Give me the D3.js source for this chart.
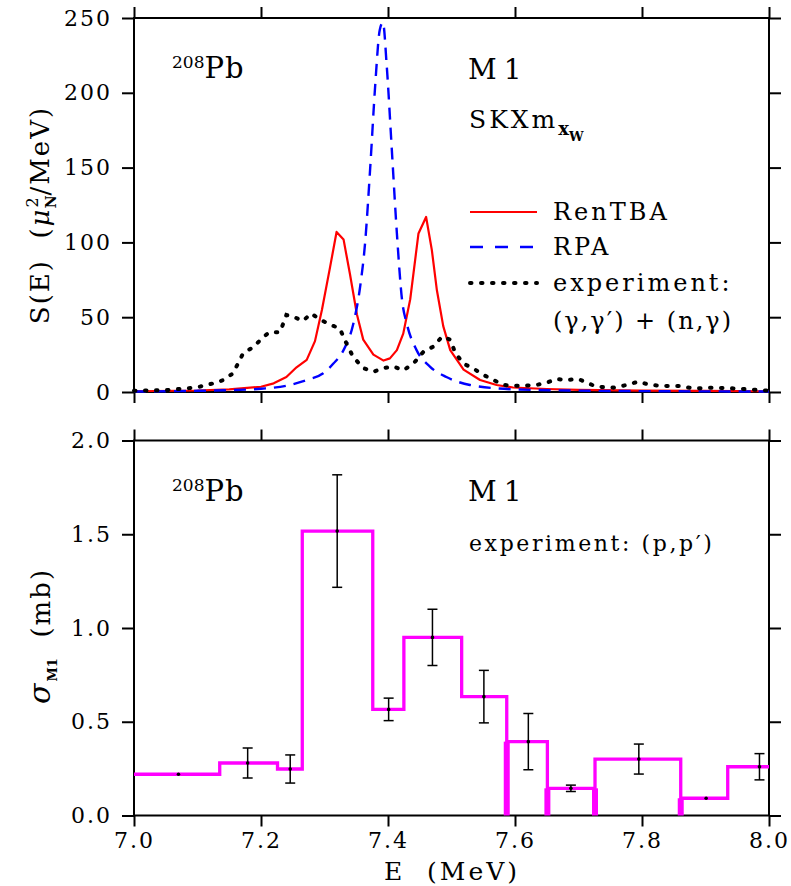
<!DOCTYPE html>
<html>
<head>
<meta charset="utf-8">
<script src="https://cdn.jsdelivr.net/npm/d3@7/dist/d3.min.js"></script>
<style>
body { margin: 0; background: #fff; }
svg text { font-family: "DejaVu Serif", "Liberation Serif", serif; fill: #000; white-space: pre; }
</style>
</head>
<body>
<div class="chart"></div>
<script>
// ---- top panel: strength functions S(E) ----
const renE = [7.00, 7.10, 7.15, 7.20, 7.22, 7.24, 7.256, 7.272, 7.285, 7.296, 7.309, 7.319, 7.330, 7.340, 7.351, 7.361, 7.377, 7.393, 7.403, 7.414, 7.424, 7.435, 7.448, 7.460, 7.469, 7.477, 7.487, 7.498, 7.519, 7.545, 7.571, 7.597, 7.65, 7.70, 7.80, 7.90, 8.00];
const renS = [0.5, 1.0, 1.8, 3.5, 5.8, 10, 16.5, 21.5, 34, 55, 84, 107, 102, 79, 52, 35, 25, 21, 22.5, 28, 39, 62, 106, 117, 95, 68, 44, 28, 15, 8, 4.7, 3, 2, 1.4, 0.9, 0.7, 0.5];

const rpaE = [7.00, 7.10, 7.15, 7.20, 7.24, 7.272, 7.298, 7.314, 7.330, 7.345, 7.356, 7.364, 7.372, 7.380, 7.387, 7.392, 7.398, 7.406, 7.414, 7.422, 7.430, 7.445, 7.466, 7.492, 7.529, 7.597, 7.70, 7.80, 8.00];
const rpaS = [0.3, 0.8, 1.2, 2.2, 4.2, 8, 12.5, 19, 28, 45, 70, 100, 150, 206, 242, 247, 218, 162, 106, 62, 45, 28, 17, 10, 4.7, 1.8, 0.9, 0.6, 0.3];

const expE = [7.000, 7.051, 7.083, 7.104, 7.125, 7.141, 7.156, 7.172, 7.188, 7.204, 7.214, 7.230, 7.240, 7.250, 7.266, 7.279, 7.293, 7.309, 7.324, 7.334, 7.345, 7.361, 7.377, 7.393, 7.409, 7.424, 7.440, 7.456, 7.472, 7.485, 7.498, 7.506, 7.519, 7.535, 7.550, 7.571, 7.582, 7.608, 7.634, 7.650, 7.665, 7.681, 7.700, 7.713, 7.728, 7.755, 7.776, 7.794, 7.813, 7.839, 7.860, 7.881, 7.913, 7.945, 7.966, 7.997];
const expS = [0.9, 1.3, 2.4, 3.6, 5.8, 8, 12.5, 26, 30, 37, 40, 40, 51.5, 50.5, 47.5, 52.5, 48.5, 45, 42.5, 33, 23.5, 16, 13.5, 16, 17, 14.5, 19, 27, 30.5, 37, 35, 26, 19, 15.5, 11.5, 7, 4.7, 4, 4.7, 6.2, 8.7, 8, 8.7, 6.2, 3.6, 2.9, 4.7, 6.9, 4.7, 4, 4, 2.4, 2.9, 2.4, 1.8, 0.9];

// ---- bottom panel: (p,p') cross sections ----
const binEdges = [7.0, 7.135, 7.226, 7.265, 7.376, 7.425, 7.516, 7.587, 7.651, 7.726, 7.861, 7.935, 8.0];
const binValues = [0.22, 0.28, 0.248, 1.517, 0.566, 0.95, 0.634, 0.394, 0.145, 0.301, 0.092, 0.26];
const pointE = [7.070, 7.179, 7.246, 7.320, 7.401, 7.470, 7.551, 7.621, 7.688, 7.795, 7.901, 7.985];
const pointErr = [0.004, 0.08, 0.075, 0.30, 0.06, 0.15, 0.14, 0.15, 0.017, 0.08, 0.004, 0.07];
const dropEdges = [7.587, 7.651, 7.726, 7.861];

// tick labels
const xTicks = [7.0, 7.2, 7.4, 7.6, 7.8, 8.0];
const yTopTicks = [0, 50, 100, 150, 200, 250];
const yBotTicks = [0, 0.5, 1.0, 1.5, 2.0];

const width = 791, height = 886;
const svg = d3.select(".chart")
    .append("svg")
    .attr("width", width)
    .attr("height", height);

const x = d3.scaleLinear().domain([7, 8]).range([134, 769]);
const yTop = d3.scaleLinear().domain([0, 250]).range([392, 18]);
const yBot = d3.scaleLinear().domain([0, 2]).range([815.5, 440.5]);

function frame(y, yTicks, yFmt, xLabels) {
    const [y0, y1] = y.range();
    const style = g => {
        g.select(".domain").remove();
        g.selectAll(".tick line").attr("stroke", "#000").attr("stroke-width", 2);
        g.selectAll(".tick text")
            .attr("font-family", null)
            .attr("font-size", 22)
            .attr("letter-spacing", 2);
    };
    svg.append("g").attr("transform", `translate(${x(7)},0)`)
        .call(d3.axisLeft(y).tickValues(yTicks).tickFormat(yFmt).tickSize(12).tickPadding(10))
        .call(style);
    svg.append("g").attr("transform", `translate(${x(8)},0)`)
        .call(d3.axisRight(y).tickValues(yTicks).tickFormat("").tickSize(12))
        .call(style);
    svg.append("g").attr("transform", `translate(0,${y1})`)
        .call(d3.axisTop(x).tickValues(xTicks).tickFormat("").tickSize(11))
        .call(style);
    svg.append("g").attr("transform", `translate(0,${y0})`)
        .call(d3.axisBottom(x).tickValues(xTicks).tickFormat(xLabels ? d3.format(".1f") : "").tickSize(11).tickPadding(6))
        .call(style);
    svg.append("rect")
        .attr("x", x(7)).attr("y", y1)
        .attr("width", x(8) - x(7)).attr("height", y0 - y1)
        .attr("fill", "none").attr("stroke", "#000").attr("stroke-width", 2);
}

frame(yTop, yTopTicks, d3.format("d"), false);
frame(yBot, yBotTicks, d3.format(".1f"), true);

// curves
const lineTop = d3.line().x(d => x(d[0])).y(d => yTop(d[1]));

svg.append("path")
    .datum(d3.zip(renE, renS))
    .attr("fill", "none")
    .attr("stroke", "#ff0000")
    .attr("stroke-width", 2.2)
    .attr("stroke-linejoin", "round")
    .attr("d", lineTop);

svg.append("path")
    .datum(d3.zip(rpaE, rpaS))
    .attr("fill", "none")
    .attr("stroke", "#0000ff")
    .attr("stroke-width", 2.4)
    .attr("stroke-dasharray", "12 8")
    .attr("d", lineTop.curve(d3.curveMonotoneX));

svg.append("path")
    .datum(d3.zip(expE, expS))
    .attr("fill", "none")
    .attr("stroke", "#000")
    .attr("stroke-width", 4)
    .attr("stroke-linecap", "round")
    .attr("stroke-dasharray", "1.5 9.5")
    .attr("d", d3.line().x(d => x(d[0])).y(d => yTop(d[1])));

// legend
const legend = [
    { label: "RenTBA", color: "#ff0000", dash: null, w: 2.2 },
    { label: "RPA", color: "#0000ff", dash: "13 12", w: 2.4 },
    { label: "experiment:", color: "#000", dash: "1.5 9.5", w: 4 }
];
const legY = [212, 247, 283];
legend.forEach((d, i) => {
    svg.append("line")
        .attr("x1", 470).attr("x2", 537)
        .attr("y1", legY[i]).attr("y2", legY[i])
        .attr("stroke", d.color)
        .attr("stroke-width", d.w)
        .attr("stroke-linecap", d.dash === "1.5 9.5" ? "round" : "butt")
        .attr("stroke-dasharray", d.dash);
    svg.append("text")
        .attr("x", 553).attr("y", legY[i] + 8)
        .attr("font-size", 24)
        .attr("letter-spacing", 3)
        .text(d.label);
});
svg.append("text")
    .attr("x", 553).attr("y", 329)
    .attr("font-size", 24)
    .attr("letter-spacing", 2)
    .text("(γ,γ′) + (n,γ)");

// annotations
function nucleus(yb) {
    const t = svg.append("text").attr("x", 172).attr("y", yb);
    t.append("tspan").attr("font-size", 17).attr("dy", -10).text("208");
    t.append("tspan").attr("font-size", 29).attr("dy", 10).attr("letter-spacing", 1).text("Pb");
}
nucleus(78);
nucleus(501);

svg.append("text").attr("x", 468).attr("y", 79)
    .attr("font-size", 28).attr("letter-spacing", 7).text("M1");
svg.append("text").attr("x", 468).attr("y", 501)
    .attr("font-size", 28).attr("letter-spacing", 7).text("M1");

const skx = svg.append("text").attr("x", 469).attr("y", 128)
    .attr("font-size", 25).attr("letter-spacing", 3);
skx.append("tspan").text("SKXm");
skx.append("tspan").attr("font-size", 18).attr("font-weight", "bold").attr("letter-spacing", 0).attr("dy", 7).text("x");
skx.append("tspan").attr("font-size", 13).attr("font-weight", "bold").attr("letter-spacing", 0).attr("dy", 6).text("W");

svg.append("text").attr("x", 469).attr("y", 551)
    .attr("font-size", 22).attr("letter-spacing", 2.6).text("experiment: (p,p′)");

// axis titles
const ylab = svg.append("text")
    .attr("transform", "translate(49,215) rotate(-90)")
    .attr("text-anchor", "middle")
    .attr("font-size", 26)
    .attr("letter-spacing", 2);
ylab.append("tspan").text("S(E)  (");
ylab.append("tspan").attr("font-style", "italic").text("μ");
ylab.append("tspan").attr("font-size", 16).attr("letter-spacing", 0).attr("dy", -11).text("2");
ylab.append("tspan").attr("font-size", 14).attr("font-weight", "bold").attr("letter-spacing", 0).attr("dx", -11).attr("dy", 18).text("N");
ylab.append("tspan").attr("dy", -7).text("/MeV)");

const ylab2 = svg.append("text")
    .attr("transform", "translate(50,636) rotate(-90)")
    .attr("text-anchor", "middle")
    .attr("font-size", 26)
    .attr("letter-spacing", 2);
ylab2.append("tspan").attr("font-style", "italic").attr("font-size", 30).text("σ");
ylab2.append("tspan").attr("font-size", 13).attr("font-weight", "bold").attr("letter-spacing", 0).attr("dy", 7).text("M1");
ylab2.append("tspan").attr("dy", -7).text("  (mb)");

svg.append("text")
    .attr("x", 452).attr("y", 880)
    .attr("text-anchor", "middle")
    .attr("font-size", 25)
    .attr("letter-spacing", 3)
    .text("E  (MeV)");

// histogram
const stepData = binEdges.map((e, i) => [e, binValues[Math.min(i, binValues.length - 1)]]);
svg.append("path")
    .datum(stepData)
    .attr("fill", "none")
    .attr("stroke", "#ff00ff")
    .attr("stroke-width", 3.3)
    .attr("d", d3.line().curve(d3.curveStepAfter).x(d => x(d[0])).y(d => yBot(d[1])));

// thick edges dropping to zero
svg.append("g")
    .selectAll("line")
    .data(dropEdges)
    .join("line")
    .attr("x1", d => x(d)).attr("x2", d => x(d))
    .attr("y1", d => {
        const i = binEdges.indexOf(d);
        return yBot(Math.min(binValues[i - 1], binValues[i]));
    })
    .attr("y2", yBot(0))
    .attr("stroke", "#ff00ff")
    .attr("stroke-width", 6);

// error bars
const pts = pointE.map((e, i) => ({ e: e, v: binValues[i], err: pointErr[i] }));
const eb = svg.append("g").attr("stroke", "#000").attr("stroke-width", 1.5);
eb.selectAll(".bar").data(pts).join("line").attr("class", "bar")
    .attr("x1", d => x(d.e)).attr("x2", d => x(d.e))
    .attr("y1", d => yBot(d.v - d.err)).attr("y2", d => yBot(d.v + d.err));
eb.selectAll(".capHi").data(pts.filter(d => d.err > 0.01)).join("line").attr("class", "capHi")
    .attr("x1", d => x(d.e) - 5).attr("x2", d => x(d.e) + 5)
    .attr("y1", d => yBot(d.v + d.err)).attr("y2", d => yBot(d.v + d.err));
eb.selectAll(".capLo").data(pts.filter(d => d.err > 0.01)).join("line").attr("class", "capLo")
    .attr("x1", d => x(d.e) - 5).attr("x2", d => x(d.e) + 5)
    .attr("y1", d => yBot(d.v - d.err)).attr("y2", d => yBot(d.v - d.err));
svg.append("g").selectAll("circle").data(pts).join("circle")
    .attr("cx", d => x(d.e)).attr("cy", d => yBot(d.v))
    .attr("r", 1.8).attr("fill", "#000");
</script>
</body>
</html>
